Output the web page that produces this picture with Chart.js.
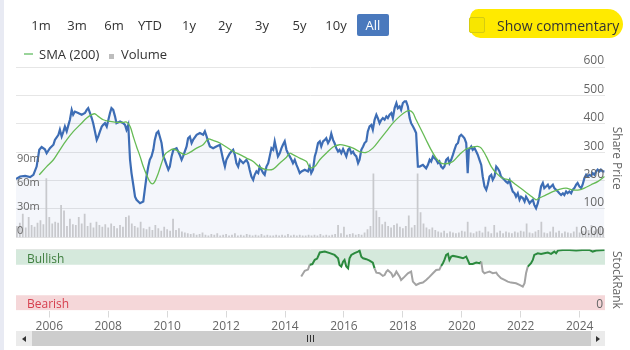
<!DOCTYPE html>
<html>
<head>
<meta charset="utf-8">
<script src="https://cdn.jsdelivr.net/npm/chart.js@4.4.0/dist/chart.umd.min.js"></script>
<style>
  body { margin: 0; width: 630px; height: 350px; overflow: hidden; background: #fff; position: relative; font-family: 'Open Sans', sans-serif; color: #333; }
  #leftStrip { position: absolute; left: 0; top: 0; width: 4px; height: 350px; background: #e8eaf3; }
  #chartBox { position: absolute; left: 0; top: 0; width: 630px; height: 350px; }
  .overlay { position: absolute; white-space: nowrap; }
  .rangeBtn { position: absolute; top: 14px; width: 32px; height: 22px; line-height: 23px; text-align: center; font-size: 13px; color: #333; }
  .rangeBtn.active { background: #4a79bd; color: #fff; border-radius: 2px; }
  #highlight { left: 470px; top: 9px; width: 153px; height: 29px; background: #ffea00; border-radius: 10px 18px 16px 12px; }
  #checkbox { left: 469px; top: 17px; width: 14px; height: 14px; border: 1px solid #d6cc10; background: #f7e600; border-radius: 2px; }
  #commentary { left: 497px; top: 16px; font-size: 14px; line-height: 20px; color: #333; }
  #smaKey { left: 24px; top: 53px; width: 9px; height: 2px; background: #9ad49a; }
  #volKey { left: 109px; top: 54px; width: 5px; height: 5px; background: #bdbdbd; }
  .legendText { top: 45px; font-size: 13px; line-height: 18px; color: #333; }
  .bandText { font-size: 12px; line-height: 16px; }
  #scrollbar { left: 16px; top: 331px; width: 589px; height: 15px; background: #cdcdcd; }
  .sbBtn { position: absolute; top: 0; width: 16px; height: 15px; background: #ebebeb; }
  .arrow { position: absolute; top: 5px; width: 0; height: 0; border-top: 3px solid transparent; border-bottom: 3px solid transparent; }
  .grip { position: absolute; top: 4px; width: 1px; height: 7px; background: #333; }
</style>
</head>
<body>
<div id="leftStrip"></div>
<div id="chartBox"><canvas id="priceChart" width="630" height="350"></canvas></div>

<div id="buttons"></div>
<div id="highlight" class="overlay"></div>
<div id="checkbox" class="overlay"></div>
<div id="commentary" class="overlay">Show commentary</div>

<div id="smaKey" class="overlay"></div>
<div class="overlay legendText" style="left:39px">SMA (200)</div>
<div id="volKey" class="overlay"></div>
<div class="overlay legendText" style="left:121px">Volume</div>

<div class="overlay bandText" style="left:27px; top:251px; color:#3f7f3f">Bullish</div>
<div class="overlay bandText" style="left:27px; top:296px; color:#d6404f">Bearish</div>

<div id="scrollbar" class="overlay">
  <div class="sbBtn" style="left:0"><div class="arrow" style="left:6px; border-right:4px solid #333"></div></div>
  <div class="sbBtn" style="right:0; width:14px"><div class="arrow" style="left:5px; border-left:4px solid #333"></div></div>
  <div class="grip" style="left:291px"></div>
  <div class="grip" style="left:294px"></div>
  <div class="grip" style="left:297px"></div>
</div>

<script>
"use strict";

// ---- axis settings ----
const xRange = [2004.87, 2024.86];
const yearTicks = [2006, 2008, 2010, 2012, 2014, 2016, 2018, 2020, 2022, 2024];
const priceTicks = [0, 100, 200, 300, 400, 500, 600];
const volumeTicks = [0, 30, 60, 90];
const rankTicks = [0, 100];
const priceRange = [-43, 600];
const volumeRange = [-90.7, 210.7];
const rankRange = [0, 100];
const bullishBand = [75, 100];
const bearishBand = [0, 25];

// range selector labels
const rangeLabels = ["1m", "3m", "6m", "YTD", "1y", "2y", "3y", "5y", "10y", "All"];
const rangeCenters = [41, 77, 114, 150, 189, 225, 262, 299.5, 336, 373];

// ---- share price (decimal year, price) ----
const priceYears = [
  2004.87, 2005.01, 2005.18, 2005.35, 2005.46, 2005.57, 2005.66, 2005.74, 2005.85, 2005.91,
  2006.02, 2006.14, 2006.19, 2006.31, 2006.36, 2006.42, 2006.48, 2006.53, 2006.59, 2006.65,
  2006.70, 2006.76, 2006.81, 2006.87, 2006.98, 2007.10, 2007.21, 2007.27, 2007.32, 2007.38,
  2007.44, 2007.49, 2007.55, 2007.61, 2007.66, 2007.72, 2007.78, 2007.83, 2007.89, 2007.95,
  2008.06, 2008.11, 2008.17, 2008.23, 2008.28, 2008.40, 2008.51, 2008.57, 2008.62, 2008.68,
  2008.74, 2008.79, 2008.85, 2008.91, 2008.96, 2009.08, 2009.19, 2009.24, 2009.30, 2009.36,
  2009.41, 2009.47, 2009.53, 2009.58, 2009.64, 2009.70, 2009.75, 2009.81, 2009.87, 2009.92,
  2009.98, 2010.04, 2010.09, 2010.15, 2010.21, 2010.32, 2010.43, 2010.49, 2010.54, 2010.66,
  2010.71, 2010.77, 2010.83, 2010.88, 2011.00, 2011.11, 2011.22, 2011.28, 2011.34, 2011.39,
  2011.45, 2011.56, 2011.67, 2011.79, 2011.84, 2011.90, 2011.96, 2012.01, 2012.07, 2012.13,
  2012.18, 2012.24, 2012.30, 2012.35, 2012.41, 2012.47, 2012.58, 2012.69, 2012.75, 2012.80,
  2012.86, 2012.92, 2012.97, 2013.03, 2013.09, 2013.14, 2013.26, 2013.31, 2013.37, 2013.43,
  2013.48, 2013.54, 2013.60, 2013.65, 2013.71, 2013.76, 2013.82, 2013.88, 2013.93, 2013.99,
  2014.05, 2014.10, 2014.16, 2014.22, 2014.27, 2014.33, 2014.39, 2014.44, 2014.50, 2014.56,
  2014.67, 2014.78, 2014.84, 2014.89, 2014.95, 2015.01, 2015.06, 2015.12, 2015.18, 2015.23,
  2015.29, 2015.35, 2015.40, 2015.46, 2015.52, 2015.57, 2015.63, 2015.68, 2015.74, 2015.80,
  2015.85, 2015.91, 2015.97, 2016.02, 2016.08, 2016.14, 2016.19, 2016.25, 2016.31, 2016.36,
  2016.42, 2016.48, 2016.53, 2016.59, 2016.65, 2016.70, 2016.76, 2016.81, 2016.87, 2016.93,
  2016.98, 2017.04, 2017.10, 2017.15, 2017.21, 2017.27, 2017.32, 2017.38, 2017.44, 2017.49,
  2017.55, 2017.61, 2017.66, 2017.72, 2017.78, 2017.83, 2017.89, 2017.94, 2018.00, 2018.06,
  2018.11, 2018.17, 2018.23, 2018.28, 2018.34, 2018.40, 2018.45, 2018.51, 2018.57, 2018.68,
  2018.79, 2018.85, 2018.91, 2018.96, 2019.02, 2019.07, 2019.13, 2019.19, 2019.24, 2019.30,
  2019.36, 2019.41, 2019.47, 2019.53, 2019.58, 2019.64, 2019.70, 2019.75, 2019.81, 2019.87,
  2019.92, 2019.98, 2020.04, 2020.09, 2020.15, 2020.20, 2020.24, 2020.32, 2020.37, 2020.43,
  2020.49, 2020.54, 2020.60, 2020.66, 2020.71, 2020.77, 2020.83, 2020.88, 2020.94, 2021.00,
  2021.05, 2021.11, 2021.17, 2021.22, 2021.28, 2021.33, 2021.39, 2021.45, 2021.50, 2021.56,
  2021.62, 2021.67, 2021.73, 2021.79, 2021.84, 2021.90, 2021.96, 2022.01, 2022.07, 2022.13,
  2022.18, 2022.24, 2022.30, 2022.35, 2022.41, 2022.46, 2022.52, 2022.58, 2022.63, 2022.69,
  2022.75, 2022.80, 2022.86, 2022.92, 2022.97, 2023.03, 2023.09, 2023.14, 2023.20, 2023.26,
  2023.31, 2023.37, 2023.43, 2023.48, 2023.54, 2023.59, 2023.65, 2023.71, 2023.76, 2023.82,
  2023.88, 2023.93, 2023.99, 2024.05, 2024.10, 2024.16, 2024.22, 2024.27, 2024.33, 2024.39,
  2024.44, 2024.50, 2024.56, 2024.61, 2024.67, 2024.72, 2024.78, 2024.84
];
const prices = [
  205, 214, 216, 212, 220, 249, 308, 318, 310, 296,
  314, 326, 343, 361, 379, 355, 373, 390, 373, 396,
  414, 449, 432, 443, 438, 432, 438, 449, 455, 438,
  420, 402, 373, 343, 355, 373, 390, 396, 402, 390,
  438, 455, 449, 426, 402, 408, 402, 396, 379, 396,
  273, 226, 185, 143, 132, 120, 126, 167, 214, 249,
  273, 285, 308, 343, 367, 373, 355, 332, 285, 273,
  255, 238, 249, 285, 308, 314, 290, 273, 285, 320,
  349, 355, 332, 343, 361, 367, 361, 373, 355, 338,
  320, 314, 320, 326, 302, 273, 249, 273, 285, 296,
  302, 308, 290, 261, 249, 273, 261, 273, 261, 238,
  214, 202, 220, 232, 226, 249, 226, 220, 249, 261,
  285, 314, 308, 338, 308, 285, 296, 314, 326, 338,
  308, 296, 285, 273, 261, 273, 255, 243, 226, 232,
  238, 232, 249, 226, 238, 285, 302, 332, 338, 320,
  338, 343, 349, 332, 343, 365, 343, 332, 314, 302,
  308, 296, 311, 299, 285, 308, 314, 296, 302, 291,
  285, 261, 273, 308, 320, 332, 338, 373, 391, 396,
  379, 414, 432, 420, 402, 414, 420, 414, 426, 420,
  432, 438, 420, 455, 473, 455, 461, 449, 473, 479,
  479, 461, 420, 402, 391, 379, 367, 249, 249, 255,
  243, 255, 273, 267, 285, 279, 273, 261, 267, 249,
  243, 249, 273, 279, 261, 273, 291, 308, 326, 332,
  355, 361, 355, 349, 332, 226, 308, 320, 308, 314,
  302, 291, 273, 255, 214, 179, 167, 185, 214, 220,
  202, 214, 249, 243, 232, 214, 208, 202, 196, 191,
  202, 179, 161, 155, 143, 155, 132, 143, 138, 126,
  143, 132, 120, 126, 132, 114, 102, 120, 143, 179,
  191, 173, 179, 185, 173, 179, 185, 173, 167, 161,
  155, 149, 155, 149, 161, 155, 161, 155, 167, 173,
  185, 191, 179, 173, 185, 208, 220, 214, 220, 216,
  226, 220, 232, 238, 232, 238, 232, 232
];

// ---- 200 day simple moving average ----
const smaYears = [
  2005.66, 2005.91, 2006.14, 2006.36, 2006.59, 2006.82, 2007.04, 2007.27, 2007.44, 2007.55,
  2007.66, 2007.83, 2008.06, 2008.28, 2008.51, 2008.62, 2008.74, 2008.85, 2008.96, 2009.08,
  2009.19, 2009.30, 2009.41, 2009.50, 2009.58, 2009.70, 2009.81, 2009.92, 2010.04, 2010.21,
  2010.43, 2010.60, 2010.77, 2011.00, 2011.22, 2011.39, 2011.56, 2011.79, 2012.01, 2012.24,
  2012.47, 2012.69, 2012.92, 2013.14, 2013.37, 2013.60, 2013.82, 2014.05, 2014.16, 2014.27,
  2014.50, 2014.73, 2014.84, 2015.01, 2015.18, 2015.40, 2015.63, 2015.85, 2016.08, 2016.31,
  2016.53, 2016.76, 2016.98, 2017.21, 2017.44, 2017.66, 2017.89, 2018.11, 2018.23, 2018.34,
  2018.45, 2018.62, 2018.79, 2018.96, 2019.13, 2019.30, 2019.47, 2019.70, 2019.92, 2020.15,
  2020.37, 2020.54, 2020.66, 2020.83, 2021.00, 2021.17, 2021.39, 2021.62, 2021.84, 2022.07,
  2022.30, 2022.52, 2022.63, 2022.86, 2023.09, 2023.31, 2023.54, 2023.76, 2023.99, 2024.16,
  2024.39, 2024.61, 2024.84
];
const sma = [
  220, 249, 273, 308, 343, 373, 396, 420, 432, 435,
  426, 414, 408, 405, 405, 406, 391, 355, 320, 285,
  249, 220, 196, 188, 196, 226, 261, 291, 302, 311,
  299, 291, 299, 314, 326, 346, 341, 332, 318, 302,
  291, 279, 267, 247, 238, 240, 261, 282, 296, 291,
  279, 267, 245, 249, 273, 296, 318, 326, 322, 314,
  302, 299, 314, 343, 373, 402, 426, 443, 446, 438,
  414, 379, 343, 308, 279, 261, 259, 267, 291, 311,
  318, 320, 314, 285, 249, 226, 208, 202, 185, 167,
  149, 132, 138, 149, 161, 169, 173, 167, 167, 173,
  185, 196, 214
];

// ---- volume in millions, one bar every 0.1 year from 2004.9 ----
const volumes = [
  14, 18, 29, 12, 25, 15, 13, 18, 21, 16,
  73, 25, 17, 19, 18, 40, 33, 14, 23, 16,
  15, 25, 17, 29, 14, 18, 12, 19, 15, 13,
  16, 12, 17, 14, 11, 15, 13, 25, 27, 17,
  14, 12, 19, 11, 10, 13, 9, 15, 11, 8,
  13, 10, 8, 23, 9, 11, 7, 6, 5, 4,
  5, 3, 4, 6, 3, 2, 4, 3, 5, 2,
  3, 4, 2, 3, 5, 2, 3, 2, 4, 3,
  2, 3, 2, 4, 2, 3, 2, 2, 3, 2,
  3, 2, 4, 2, 3, 2, 3, 2, 2, 3,
  2, 3, 2, 4, 2, 3, 2, 3, 4, 15,
  5, 13, 3, 4, 5, 3, 4, 3, 6, 10,
  14, 79, 33, 25, 16, 19, 14, 12, 15, 17,
  13, 11, 14, 27, 12, 15, 79, 31, 17, 12,
  10, 12, 9, 7, 6, 8, 5, 7, 6, 5,
  6, 8, 7, 19, 6, 5, 7, 8, 6, 13,
  7, 5, 15, 6, 8, 5, 7, 6, 5, 7,
  6, 8, 7, 17, 6, 5, 7, 9, 19, 6,
  5, 7, 13, 6, 8, 5, 7, 6, 5, 7,
  13, 6, 8, 7, 9, 15, 8, 10, 13, 11
];
const volumeYears = volumes.map((_, i) => +(2004.9 + i * 0.1).toFixed(1)); // bar dates

// ---- StockRank (0-100) ----
const rankYears = [
  2014.55, 2014.67, 2014.78, 2014.84, 2014.93, 2015.01, 2015.09, 2015.18, 2015.35, 2015.52,
  2015.68, 2015.80, 2015.85, 2015.91, 2015.97, 2016.02, 2016.08, 2016.14, 2016.19, 2016.25,
  2016.36, 2016.48, 2016.53, 2016.59, 2016.65, 2016.76, 2016.87, 2016.98, 2017.04, 2017.10,
  2017.21, 2017.32, 2017.38, 2017.44, 2017.49, 2017.61, 2017.66, 2017.72, 2017.78, 2017.89,
  2017.94, 2018.06, 2018.17, 2018.28, 2018.34, 2018.45, 2018.57, 2018.68, 2018.79, 2018.91,
  2019.02, 2019.13, 2019.24, 2019.30, 2019.36, 2019.41, 2019.47, 2019.53, 2019.58, 2019.64,
  2019.70, 2019.81, 2019.92, 2020.04, 2020.15, 2020.20, 2020.26, 2020.37, 2020.49, 2020.60,
  2020.66, 2020.71, 2020.77, 2020.83, 2020.94, 2021.05, 2021.17, 2021.22, 2021.33, 2021.45,
  2021.56, 2021.67, 2021.84, 2021.96, 2022.07, 2022.13, 2022.18, 2022.24, 2022.35, 2022.41,
  2022.46, 2022.58, 2022.69, 2022.80, 2022.92, 2023.03, 2023.14, 2023.20, 2023.26, 2023.43,
  2023.65, 2023.88, 2024.10, 2024.33, 2024.44, 2024.56, 2024.84
];
const ranks = [
  55.5, 65, 67, 75, 76, 83, 85, 95, 96.5, 94,
  91, 85.5, 74.6, 72, 80, 83, 72, 69, 85.5, 91,
  94, 96.5, 98, 88, 85.5, 84, 81.7, 78.4, 69, 62,
  61, 56.6, 58, 63.7, 66, 61, 55.5, 58, 63.7, 55.5,
  50, 55.5, 61, 63.7, 47.3, 41.8, 44.6, 45.7, 50, 55.5,
  61, 66.4, 67, 73, 77.4, 82.8, 91, 92.7, 82.8, 88.3,
  89.4, 88.3, 87.2, 85.5, 88.3, 82.8, 76.3, 76.3, 78.4, 77.4,
  80, 63.7, 61, 62, 63.7, 61, 62, 58.2, 52.8, 50,
  47.3, 45.7, 44.6, 41.8, 39.1, 44.6, 61, 71.9, 77.4, 82.8,
  91, 93.7, 92.7, 93.7, 94.8, 92.7, 96.5, 93.7, 98.1, 99.2,
  99.2, 98.1, 99.2, 99.2, 96.5, 98.1, 99.2
];

// build range selector buttons
const btnBox = document.getElementById("buttons");
rangeLabels.forEach((label, i) => {
  const b = document.createElement("div");
  b.className = "rangeBtn" + (label === "All" ? " active" : "");
  b.style.left = (rangeCenters[i] - 16) + "px";
  b.textContent = label;
  btnBox.appendChild(b);
});

const toPoints = (xs, ys) => xs.map((x, i) => ({ x: x, y: ys[i] }));
const fixedTicks = list => scale => { scale.ticks = list.map(v => ({ value: v })); };

Chart.defaults.font.family = "'Open Sans', sans-serif";
Chart.defaults.color = "#666";

const ctx = document.getElementById("priceChart").getContext("2d");
new Chart(ctx, {
  data: {
    datasets: [
      // bullish / bearish zones of the StockRank panel
      { type: "line", data: toPoints(xRange, [bullishBand[1], bullishBand[1]]), yAxisID: "rank",
        fill: { value: bullishBand[0] }, backgroundColor: "#d5e9dc", borderWidth: 0, pointRadius: 0, order: 9 },
      { type: "line", data: toPoints(xRange, [bearishBand[1], bearishBand[1]]), yAxisID: "rank",
        fill: { value: bearishBand[0] }, backgroundColor: "#f5d7d9", borderWidth: 0, pointRadius: 0, order: 9 },
      // share price with light area below
      { type: "line", label: "Price", data: toPoints(priceYears, prices), yAxisID: "price",
        borderColor: "#3d6db5", borderWidth: 2.2, backgroundColor: "rgba(60,100,180,0.06)", fill: "origin",
        pointRadius: 0, tension: 0, order: 3 },
      { type: "bar", label: "Volume", data: toPoints(volumeYears, volumes), yAxisID: "volume",
        backgroundColor: "#c8c9cd", barPercentage: 0.6, categoryPercentage: 1, order: 2 },
      { type: "line", label: "SMA (200)", data: toPoints(smaYears, sma), yAxisID: "price",
        borderColor: "#66bb55", borderWidth: 1.3, pointRadius: 0, tension: 0.3, fill: false, order: 1 },
      // StockRank line, green while in the bullish zone
      { type: "line", label: "StockRank", data: toPoints(rankYears, ranks), yAxisID: "rank",
        borderWidth: 2, pointRadius: 0, fill: false, order: 0,
        segment: { borderColor: c => Math.min(c.p0.parsed.y, c.p1.parsed.y) >= 68 ? "#2b8a3e" : "#a3a3a3" } }
    ]
  },
  options: {
    responsive: false,
    devicePixelRatio: 1,
    animation: false,
    layout: { padding: { top: 67, bottom: 19.5, left: 0, right: 0 } },
    plugins: { legend: { display: false }, tooltip: { enabled: false } },
    scales: {
      x: {
        type: "linear", position: "bottom", offset: false, min: xRange[0], max: xRange[1],
        afterBuildTicks: fixedTicks(yearTicks),
        afterFit: s => { s.height = 20; },
        grid: { offset: false, drawOnChartArea: false, drawTicks: true, tickLength: 7, color: "#d9d9d9" },
        border: { display: false },
        ticks: { font: { size: 12 }, padding: 2, maxRotation: 0, autoSkip: false, callback: v => String(v) }
      },
      // tick labels sit above the series (ticks.z), grid lines stay below
      volume: {
        type: "linear", position: "left", min: volumeRange[0], max: volumeRange[1],
        afterBuildTicks: fixedTicks(volumeTicks),
        afterFit: s => { s.width = 16; },
        grid: { display: false },
        border: { display: false },
        ticks: { z: 1, mirror: true, padding: 1, labelOffset: -6, autoSkip: false, font: { size: 11 },
          callback: v => v === 0 ? "0" : v + "m" }
      },
      price: {
        type: "linear", position: "right", stack: "right", stackWeight: 182.2,
        min: priceRange[0], max: priceRange[1],
        afterBuildTicks: fixedTicks(priceTicks),
        afterFit: s => { s.width = 25; },
        grid: { color: "#e6e6e6", drawTicks: false },
        border: { display: false },
        ticks: { z: 1, mirror: true, padding: -1, labelOffset: -6, autoSkip: false, font: { size: 12 },
          callback: v => v === 0 ? "0.00" : String(v) },
        title: { display: true, text: "Share Price", font: { size: 12 }, padding: { top: 6, bottom: 0 } }
      },
      rank: {
        type: "linear", position: "right", stack: "right", stackWeight: 61,
        min: rankRange[0], max: rankRange[1],
        afterBuildTicks: fixedTicks(rankTicks),
        afterFit: s => { s.width = 25; },
        grid: { color: c => c.tick.value === 100 ? "#e6e6e6" : "rgba(0,0,0,0)", drawTicks: false },
        border: { display: false },
        ticks: { z: 1, mirror: true, padding: -2, labelOffset: -6, autoSkip: false, font: { size: 12 },
          callback: v => v === 0 ? "0" : "" },
        title: { display: true, text: "StockRank", font: { size: 12 }, padding: { top: 6, bottom: 0 } }
      }
    }
  }
});
</script>
</body>
</html>
